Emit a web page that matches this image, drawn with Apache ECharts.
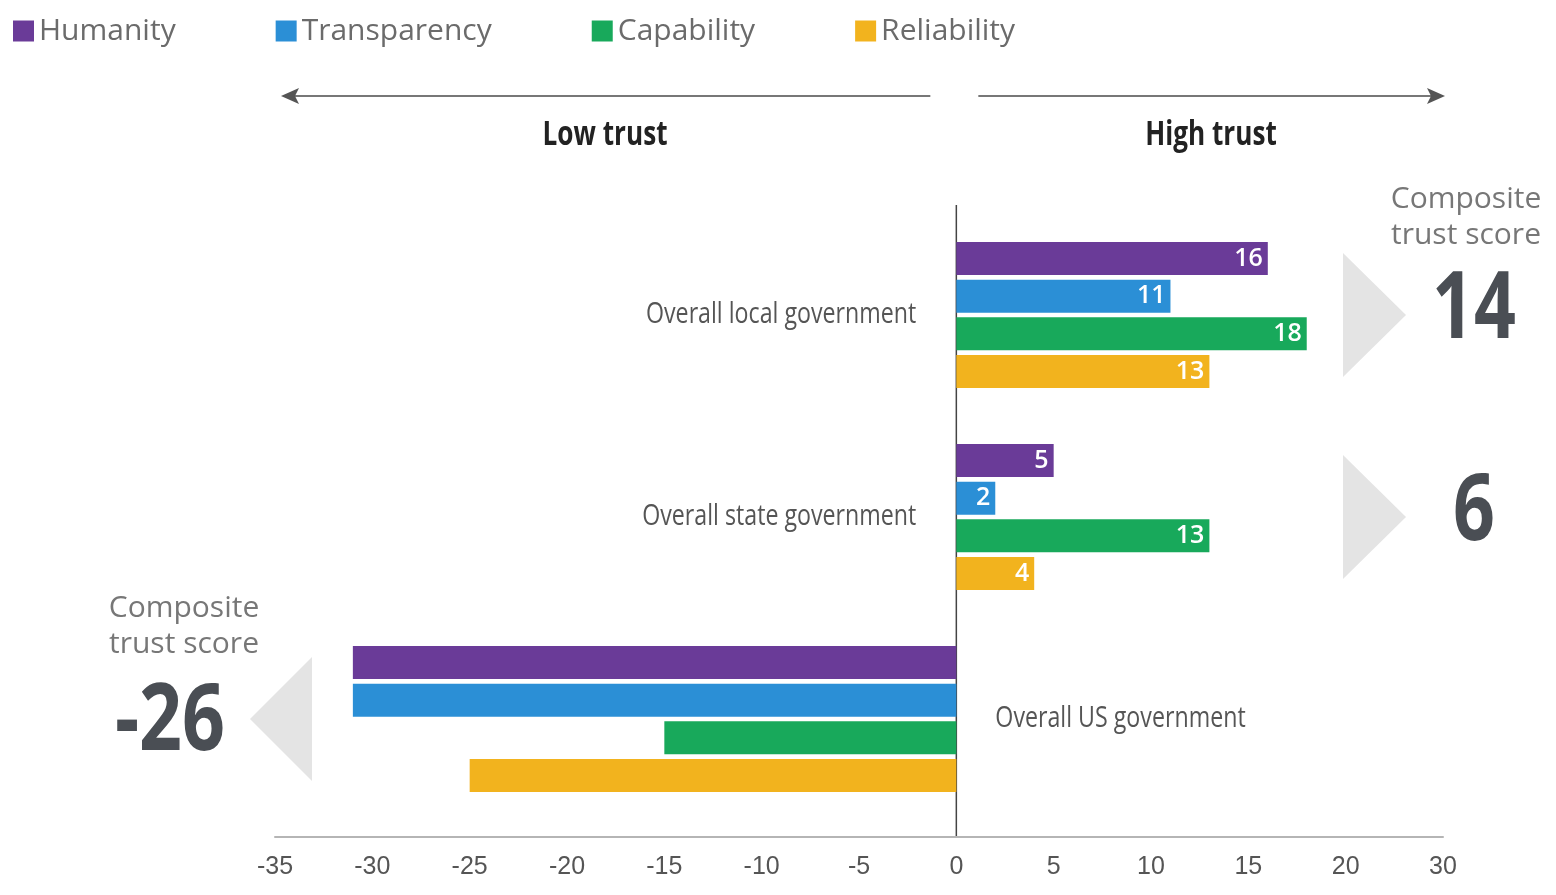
<!DOCTYPE html>
<html>
<head>
<meta charset="utf-8">
<script src="https://cdn.jsdelivr.net/npm/echarts@6/dist/echarts.min.js"></script>
<style>html,body{margin:0;padding:0;background:#fff}#c{width:1556px;height:895px}</style>
</head>
<body>
<div id="c"></div>
<script>
const categories = ['Overall local government', 'Overall state government', 'Overall US government'];
const humanity = [16, 5, -31];
const transparency = [11, 2, -31];
const capability = [18, 13, -15];
const reliability = [13, 4, -25];
const composite = [14, 6, -26];
const tickLabels = ['-35', '-30', '-25', '-20', '-15', '-10', '-5', '0', '5', '10', '15', '20', '30'];
const seriesNames = ['Humanity', 'Transparency', 'Capability', 'Reliability'];
const colors = ['#6a3b98', '#2b8fd6', '#18a95b', '#f2b31e'];

const OS = '"Open Sans", sans-serif';
const chart = echarts.init(document.getElementById('c'));
const seriesData = [humanity, transparency, capability, reliability];

chart.setOption({
  animation: false,
  color: colors,
  legend: {
    left: 8, top: 11,
    itemWidth: 21, itemHeight: 21, itemGap: 100,
    icon: 'rect',
    textStyle: { fontFamily: OS, fontSize: 30, color: '#6b6b6b' },
    data: seriesNames
  },
  grid: { left: 275, right: 113, top: 214, height: 606 },
  xAxis: {
    type: 'value', min: -35, max: 25, interval: 5,
    offset: 17,
    axisLine: { show: true, lineStyle: { color: '#b5b5b5', width: 2 } },
    axisTick: { show: false },
    splitLine: { show: false },
    axisLabel: {
      margin: 18,
      fontFamily: '"Liberation Sans", sans-serif', fontSize: 25, color: '#555',
      formatter: function (v) { return tickLabels[Math.round((v + 35) / 5)]; }
    }
  },
  yAxis: {
    type: 'category', inverse: true, data: categories,
    axisLine: { show: false }, axisTick: { show: false }, axisLabel: { show: false }
  },
  series: seriesNames.map((n, i) => ({
    name: n, type: 'bar', data: seriesData[i],
    barWidth: 33, barGap: '14%',
    label: {
      show: true, position: 'insideRight', distance: 5,
      color: '#fff', fontFamily: OS, fontWeight: 600, fontSize: 25,
      formatter: p => p.value > 0 ? String(p.value) : ''
    }
  }))
});

const x0 = chart.convertToPixel({ xAxisIndex: 0 }, 0);
const ys = categories.map(c => chart.convertToPixel({ yAxisIndex: 0 }, c));
const gray = '#777';
const g = [];
function txt(x, y, text, font, fill, align, sx, extra) {
  return Object.assign({ type: 'text', x: x, y: y, scaleX: sx || 1,
    style: Object.assign({ text: text, font: font, fill: fill, align: align, verticalAlign: 'middle' }, extra || {}) });
}
// zero line
g.push({ type: 'line', shape: { x1: x0, y1: 205, x2: x0, y2: 837 }, style: { stroke: '#444', lineWidth: 1.5 } });
// arrows
const ay = 96;
g.push({ type: 'line', shape: { x1: x0 - 26, y1: ay, x2: 286, y2: ay }, style: { stroke: '#777', lineWidth: 2 } });
g.push({ type: 'polygon', shape: { points: [[299, ay - 8], [281, ay], [299, ay + 8], [295, ay]] }, style: { fill: '#555' } });
g.push({ type: 'line', shape: { x1: x0 + 22, y1: ay, x2: 1440, y2: ay }, style: { stroke: '#777', lineWidth: 2 } });
g.push({ type: 'polygon', shape: { points: [[1427, ay - 8], [1445, ay], [1427, ay + 8], [1431, ay]] }, style: { fill: '#555' } });
g.push(txt(605, 135, 'Low trust', 'bold 34px ' + OS, '#222', 'center', 0.77));
g.push(txt(1211, 135, 'High trust', 'bold 34px ' + OS, '#222', 'center', 0.77));
// category labels
categories.forEach((c, i) => {
  const right = composite[i] >= 0;
  g.push(txt(right ? x0 - 40 : x0 + 39, ys[i], c, '29px ' + OS, '#555', right ? 'right' : 'left', 0.8));
});
// composite score
const ctxt = 'Composite\ntrust score';
g.push(txt(1466, 217, ctxt, '30px ' + OS, gray, 'center', 1, { lineHeight: 36 }));
g.push(txt(184, 626, ctxt, '30px ' + OS, gray, 'center', 1, { lineHeight: 36 }));
composite.forEach((v, i) => {
  const y = ys[i];
  if (v >= 0) {
    g.push({ type: 'polygon', shape: { points: [[1343, y - 62], [1406, y], [1343, y + 62]] }, style: { fill: '#e4e4e4' } });
    g.push(txt(1474, y - 4, String(v), 'bold 94px ' + OS, '#4a4e54', 'center', 0.78));
  } else {
    g.push({ type: 'polygon', shape: { points: [[312, y - 62], [250, y], [312, y + 62]] }, style: { fill: '#e4e4e4' } });
    g.push(txt(170, y + 4, String(v), 'bold 94px ' + OS, '#4a4e54', 'center', 0.8));
  }
});
chart.setOption({ graphic: g });
</script>
</body>
</html>
